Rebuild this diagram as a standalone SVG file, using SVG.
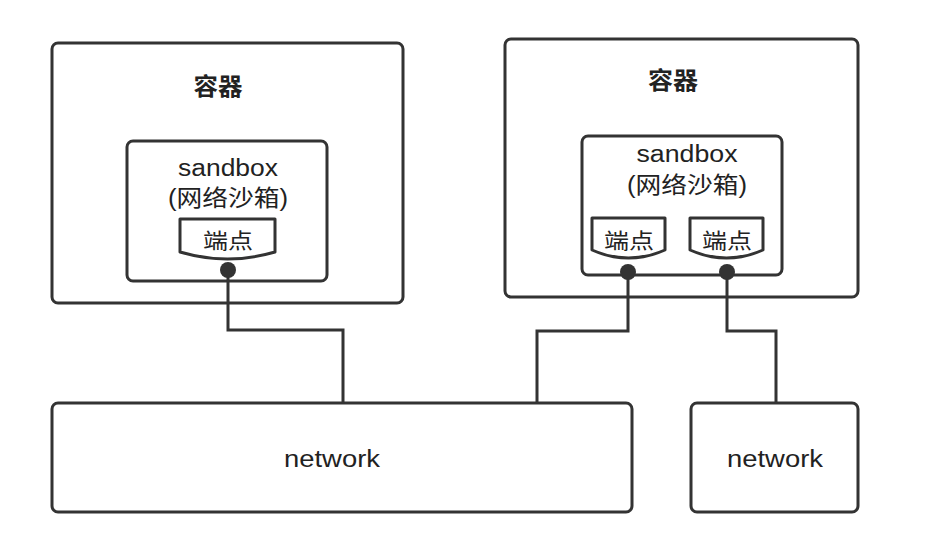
<svg xmlns="http://www.w3.org/2000/svg" width="948" height="558" viewBox="0 0 948 558">
<style>
.box{fill:#fff;stroke:#333;stroke-width:3}
.ep{fill:#fff;stroke:#333;stroke-width:3;stroke-linejoin:round}
.wire{fill:none;stroke:#333;stroke-width:3}
.dot{fill:#333}
text{font-family:"Liberation Sans","Noto Sans CJK SC",sans-serif;fill:#222;text-anchor:middle}
.title{font-size:24px;font-weight:bold}
.lbl{font-size:23px}
.eplbl{font-size:21px}
</style>
<rect width="948" height="558" fill="#fff"/>
<g id="container1">
<rect class="box" x="52" y="43" width="351" height="260" rx="6"/>
<text class="title" x="218" y="95" textLength="49" lengthAdjust="spacingAndGlyphs">容器</text>
</g>
<g id="sandbox1">
<rect class="box" x="127" y="141" width="200" height="140" rx="6"/>
<text class="lbl" x="228" y="176" textLength="100" lengthAdjust="spacingAndGlyphs">sandbox</text>
<text class="lbl" x="228" y="206" textLength="120" lengthAdjust="spacingAndGlyphs">(网络沙箱)</text>
</g>
<g id="endpoint1">
<path class="ep" d="M180 219 H275 V252 Q227.5 266 180 252 Z"/>
<text class="eplbl" x="228" y="248" textLength="50" lengthAdjust="spacingAndGlyphs">端点</text>
</g>
<g id="container2">
<rect class="box" x="505" y="39" width="353" height="258" rx="6"/>
<text class="title" x="673" y="89" textLength="50" lengthAdjust="spacingAndGlyphs">容器</text>
</g>
<g id="sandbox2">
<rect class="box" x="582" y="136" width="200" height="139" rx="6"/>
<text class="lbl" x="687" y="162" textLength="101" lengthAdjust="spacingAndGlyphs">sandbox</text>
<text class="lbl" x="687" y="193" textLength="120" lengthAdjust="spacingAndGlyphs">(网络沙箱)</text>
</g>
<g id="endpoint2a">
<path class="ep" d="M592 218 H665 V250 Q628.5 266 592 250 Z"/>
<text class="eplbl" x="629" y="248" textLength="50" lengthAdjust="spacingAndGlyphs">端点</text>
</g>
<g id="endpoint2b">
<path class="ep" d="M690 218 H763 V250 Q726.5 266 690 250 Z"/>
<text class="eplbl" x="727" y="248" textLength="50" lengthAdjust="spacingAndGlyphs">端点</text>
</g>
<g id="network1">
<rect class="box" x="52" y="403" width="580" height="109" rx="6"/>
<text class="lbl" x="332" y="467" textLength="96" lengthAdjust="spacingAndGlyphs">network</text>
</g>
<g id="network2">
<rect class="box" x="691" y="403" width="167" height="109" rx="6"/>
<text class="lbl" x="775" y="467" textLength="96" lengthAdjust="spacingAndGlyphs">network</text>
</g>
<g id="connectors">
<path class="wire" d="M228 270 V330 H343 V403"/>
<path class="wire" d="M628 272 V331 H537 V403"/>
<path class="wire" d="M727 272 V331 H776 V403"/>
<circle class="dot" cx="228" cy="270" r="8"/>
<circle class="dot" cx="628" cy="272" r="8"/>
<circle class="dot" cx="727" cy="272" r="8"/>
</g>
</svg>
